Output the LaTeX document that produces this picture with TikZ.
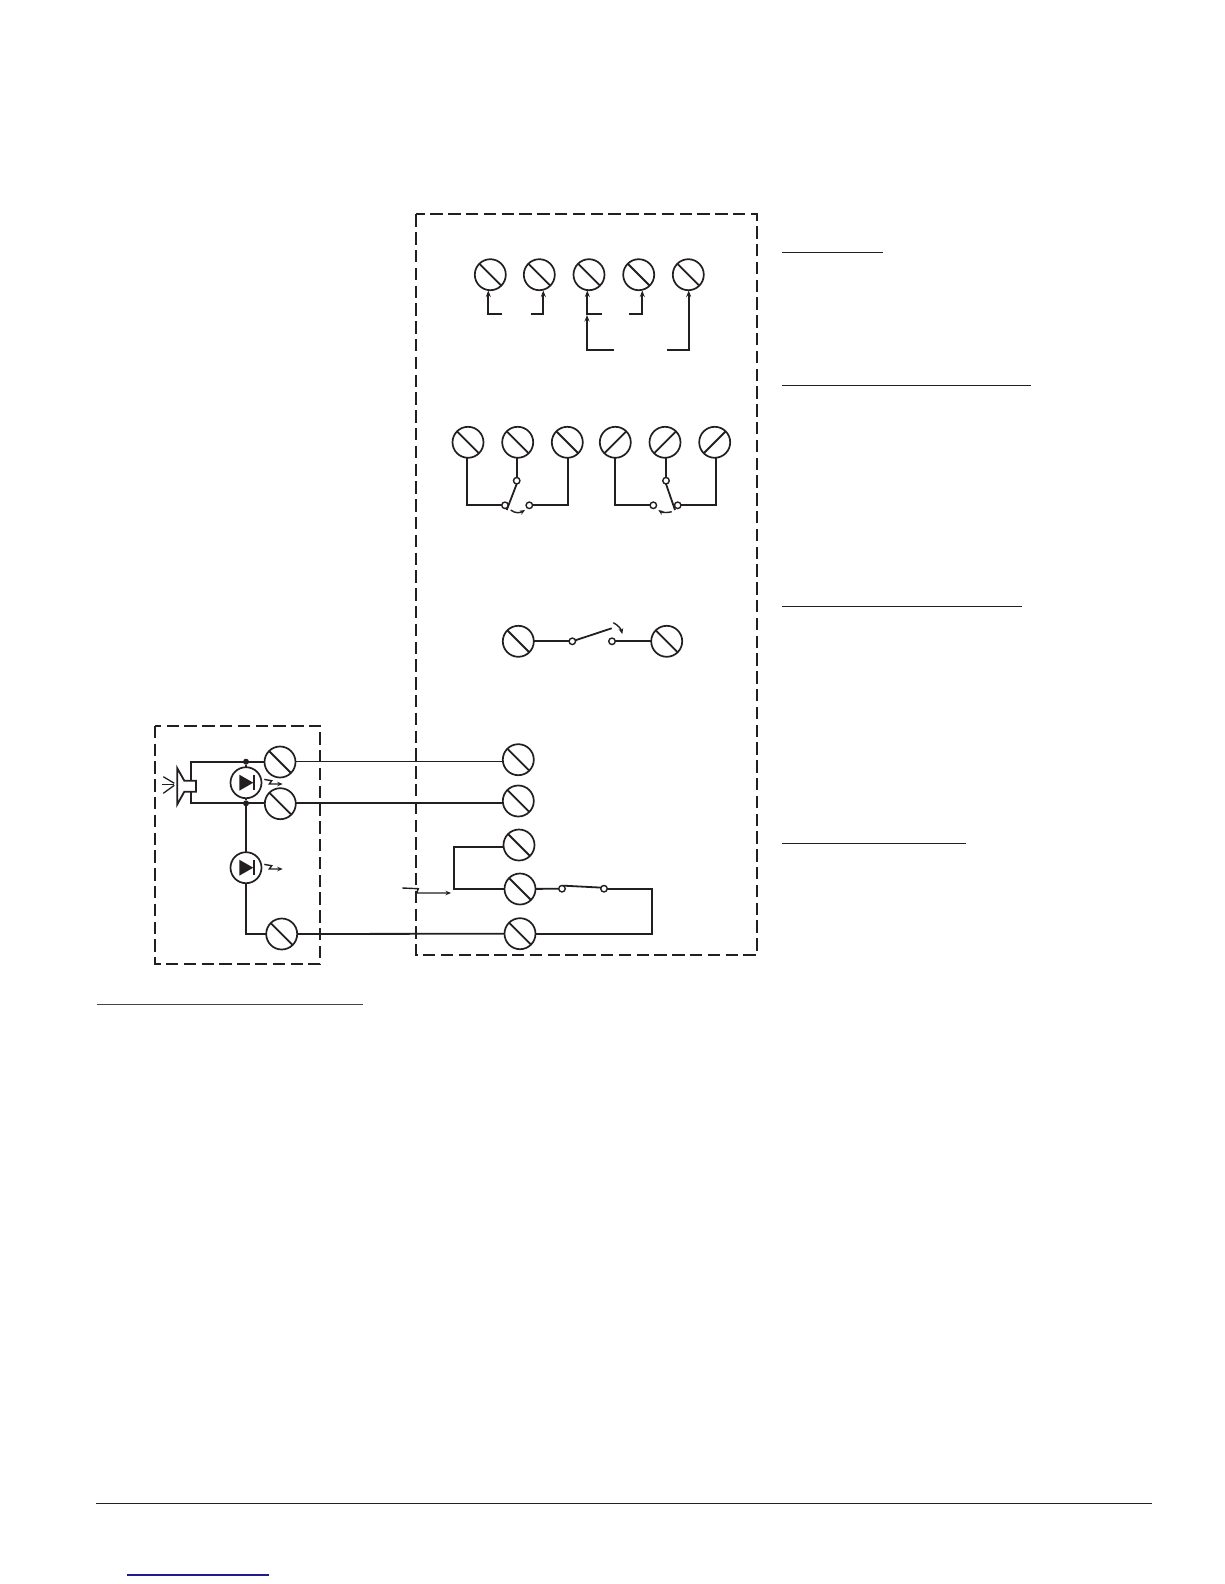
\documentclass[tikz,border=0pt]{standalone}
\usetikzlibrary{arrows.meta}
\definecolor{ink}{HTML}{231F20}
\definecolor{linkblue}{HTML}{1C1C8C}
\definecolor{rulegray}{HTML}{444444}
\tikzset{
  x=1pt,y=-1pt,
  wire/.style={draw=ink,line width=1.8pt,line join=miter},
  tip/.style={wire,-{Stealth[length=6.5pt,width=5pt]}},
  thintip/.style={draw=ink,line width=1.4pt,-{Stealth[length=5.5pt,width=4.5pt]}},
  bound/.style={draw=ink,line width=1.7pt,dash pattern=on 12.5pt off 5.3pt},
  rule/.style={draw=ink,line width=1.2pt},
  greyrule/.style={draw=rulegray,line width=1.1pt},
  terminal/.style={circle,draw=ink,line width=1.7pt,minimum size=31pt,inner sep=0pt,outer sep=0pt,fill=white},
  contact/.style={circle,draw=ink,line width=1.4pt,minimum size=6.5pt,inner sep=0pt,outer sep=0pt,fill=white},
  ledring/.style={circle,draw=ink,line width=1.7pt,minimum size=31pt,inner sep=0pt,outer sep=0pt,fill=white},
  junction/.style={circle,fill=ink,minimum size=6pt,inner sep=0pt,outer sep=0pt},
}
\newcommand{\screwb}[2]{\node[terminal] (#1) at (#2) {};
  \draw[wire] (#1.135) -- (#1.-45);}
\newcommand{\screwf}[2]{\node[terminal] (#1) at (#2) {};
  \draw[wire] (#1.45) -- (#1.-135);}
\newcommand{\ledsym}[2]{\node[ledring] (#1) at (#2) {};
  \fill[ink] ([shift={(-6.7,-8)}]#1.center) -- ([shift={(7.3,0)}]#1.center) -- ([shift={(-6.7,8)}]#1.center) -- cycle;
  \draw[wire] ([shift={(8.3,-7.7)}]#1.center) -- ([shift={(8.3,7.7)}]#1.center);
  \draw[thintip] ([shift={(18.3,-3.3)}]#1.center) -- ([shift={(25.7,-2)}]#1.center) -- ([shift={(23.3,1.3)}]#1.center) -- ([shift={(36.7,1.3)}]#1.center);}
\begin{document}
\begin{tikzpicture}
\useasboundingbox (0,0) rectangle (1224,1584);
\fill[white] (0,0) rectangle (1224,1584);

% dashed enclosures
\draw[bound] (416,214.3) rectangle (756.7,955);
\draw[bound] (155,725.7) rectangle (320.3,964);

% section rules
\draw[rule] (782,252.5) -- (882.7,252.5);
\draw[rule] (782,385.5) -- (1030.7,385.5);
\draw[rule] (782,606.5) -- (1021.7,606.5);
\draw[rule] (782,843.5) -- (965.7,843.5);
\draw[greyrule] (97,1004.5) -- (362.7,1004.5);
\draw[rule] (96,1503.5) -- (1151.7,1503.5);
\draw[draw=linkblue,line width=1.2pt] (127,1575) -- (269,1575);

% top row
\screwb{ta}{490.3,274.7}
\screwb{tb}{539.3,274.7}
\screwb{tc}{589,274.7}
\screwb{td}{638.7,274.7}
\screwb{te}{688.3,274.7}
\coordinate (a1) at (502.3,314);
\coordinate (b1) at (530.7,314);
\coordinate (c1) at (601.7,314);
\coordinate (d1) at (629.3,314);
\coordinate (c2) at (614.3,349.7);
\coordinate (e1) at (667.3,349.7);
\coordinate (at) at (488.3,290.5);
\coordinate (bt) at (543.3,290.5);
\coordinate (ct) at (587.3,290.5);
\coordinate (dt) at (642.3,290.5);
\coordinate (et) at (688.7,290.5);
\coordinate (cm) at (587,315);
\draw[tip] (a1) -| (at);
\draw[tip] (b1) -| (bt);
\draw[tip] (c1) -| (ct);
\draw[tip] (d1) -| (dt);
\draw[tip] (c2) -| (cm);
\draw[tip] (e1) -| (et);

% changeover relays
\screwb{ra}{468,442.3}
\screwb{rb}{517.7,442.3}
\screwb{rc}{567.3,442.3}
\screwf{rd}{615.3,442.3}
\screwf{re}{665,442.3}
\screwf{rf}{714.7,442.3}
\node[contact] (k1) at (505,505.3) {};
\node[contact] (k2) at (529.3,505.3) {};
\node[contact] (k3) at (516.7,480.7) {};
\node[contact] (k4) at (653.3,505.3) {};
\node[contact] (k5) at (677.7,505.3) {};
\node[contact] (k6) at (666,480.7) {};
\draw[wire] (466.7,457.8) |- (k1.west);
\draw[wire] (567.7,457.8) |- (k2.east);
\draw[wire] (516.7,457.8) -- (k3.north);
\draw[wire] (614.7,457.8) |- (k4.west);
\draw[wire] (716.3,457.8) |- (k5.east);
\draw[wire] (666,457.8) -- (k6.north);
\coordinate (arm1) at (506.7,510);
\coordinate (arm2) at (675,510);
\draw[wire] (k3.south) -- (arm1);
\draw[wire] (k6.south) -- (arm2);
\coordinate (sa) at (510.7,510);
\coordinate (sb) at (525,510);
\coordinate (sc) at (671.7,511.7);
\coordinate (sd) at (658.3,510);
\draw[thintip] (sa) .. controls (515,513.5) and (520,513) .. (sb);
\draw[thintip] (sc) .. controls (668,513) and (662,512.5) .. (sd);

% normally open contact
\screwb{sw}{518.3,641.3}
\screwb{se}{666.7,641.3}
\node[contact] (k7) at (572.3,641.3) {};
\node[contact] (k8) at (612,641.3) {};
\draw[wire] (sw) -- (k7);
\draw[wire] (k8) -- (se);
\coordinate (arm3) at (611.7,628.3);
\draw[wire] (k7) -- (arm3);
\coordinate (sf) at (613.3,622.7);
\coordinate (sg) at (622.3,634);
\draw[thintip] (sf) .. controls (618,625) and (621,629) .. (sg);

% lower terminals
\screwb{la}{518.3,759.7}
\screwb{lb}{518.3,801}
\screwb{lc}{519,845}
\screwb{ld}{520,889}
\screwb{le}{520,933.7}
\node[contact] (k9) at (562,888.7) {};
\node[contact] (k10) at (604,888.7) {};
\coordinate (lj) at (453.7,846.7);
\coordinate (lk) at (453.7,888.7);
\draw[wire] (lc.west |- lj) -- (lj) -- (lk) -- (ld.west |- lk);
\draw[wire] (ld) -- (k9);
\draw[wire] (k9.70) -- (k10.160);
\coordinate (lr) at (652.3,888.7);
\coordinate (ls) at (652.3,933.7);
\draw[wire] (k10) -- (lr) -- (ls) -- (le);
\coordinate (pa) at (402.3,888);
\coordinate (pb) at (418.3,888.7);
\coordinate (pc) at (416.7,893);
\coordinate (pd) at (451,893);
\draw[thintip] (pa) -- (pb) -- (pc) -- (pd);

% remote unit
\screwb{ua}{280,762}
\screwb{ub}{280.3,803.7}
\screwb{uc}{281.7,934}
\ledsym{lu}{246,782.7}
\ledsym{lv}{246,867.7}
\node[junction] (ja) at (246,761.7) {};
\node[junction] (jb) at (246,803.3) {};
\draw[wire] (ua.east |- 0,761.5) -- (la.west |- 0,761.5);
\draw[wire] (ub.east |- 0,803.3) -- (lb.west |- 0,803.3);
\draw[wire] (uc) -- (le);
\draw[wire] (ja) -- (lu);
\draw[wire] (jb) -- (lu);
\draw[wire] (jb) -- (lv);
\coordinate (lw) at (246,934);
\draw[wire] (lv) -- (lw) -- (uc);
\coordinate (hu) at (190.7,761.7);
\coordinate (hv) at (190.7,803.3);
\coordinate (hx) at (190.7,780.7);
\coordinate (hy) at (190.7,791.7);
\draw[wire] (ua.west |- hu) -- (hu) -- (hx);
\draw[wire] (ub.west |- hv) -- (hv) -- (hy);
\draw[wire] (177.3,768.3) -- (184.3,780.7) -- (196,780.7) -- (196,791.7) -- (184.3,791.7) -- (177.3,804.3) -- cycle;
\draw[draw=ink,line width=1.3pt] (163.3,776.7) -- (174.3,783.3);
\draw[draw=ink,line width=1.3pt] (162.3,784.3) -- (174.3,784.3);
\draw[draw=ink,line width=1.3pt] (163.3,793.3) -- (174.3,785.3);
\end{tikzpicture}
\end{document}
